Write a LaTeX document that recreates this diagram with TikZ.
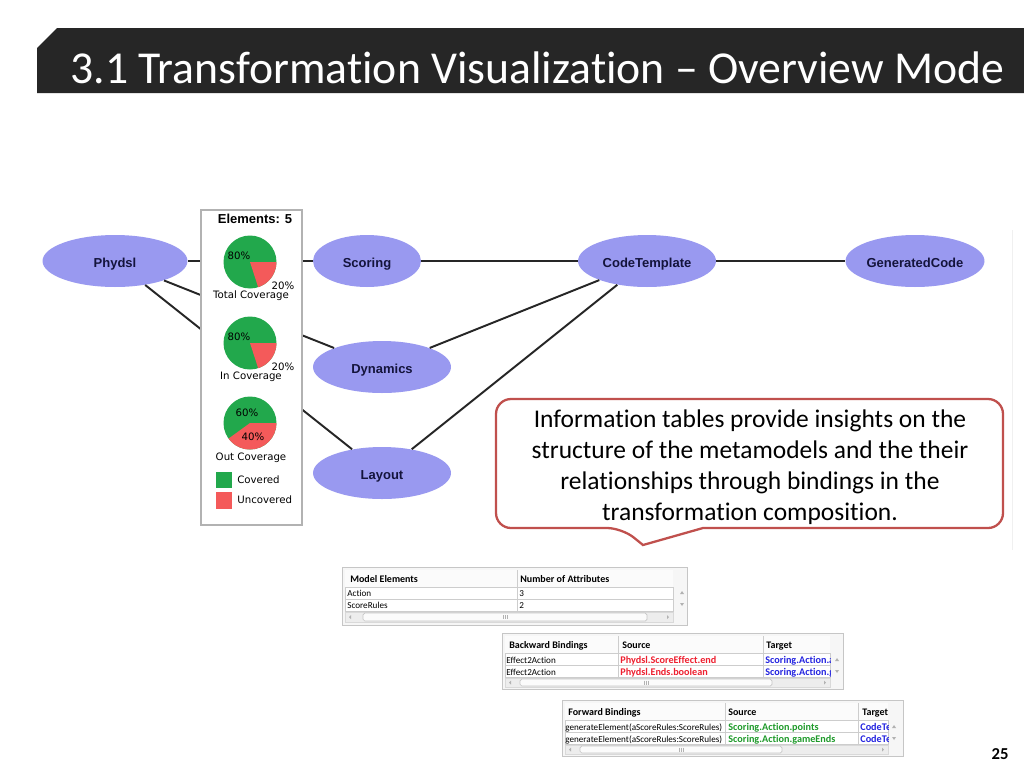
\documentclass[tikz,border=0pt]{standalone}
\usepackage{fontspec}
\setmainfont{Carlito}[Ligatures={TeX,NoCommon}]
\newfontfamily\arialfont{Liberation Sans}
\newfontfamily\tahomafont{DejaVu Sans}
\usetikzlibrary{shapes.geometric}

\definecolor{titlebar}{HTML}{262626}
\definecolor{nodefill}{HTML}{9999F0}
\definecolor{nodetext}{HTML}{14143C}
\definecolor{covgreen}{HTML}{22A84C}
\definecolor{covred}{HTML}{F45A5A}
\definecolor{calloutred}{HTML}{C0504D}
\definecolor{tblgrid}{HTML}{CDCDCD}
\definecolor{srcred}{HTML}{EE2030}
\definecolor{srcgreen}{HTML}{1E9A2A}
\definecolor{tgtblue}{HTML}{2424E0}

\begin{document}
\begin{tikzpicture}[x=0.02cm, y=-0.02cm,
    model/.style={ellipse, fill=nodefill, inner sep=0pt, minimum height=1.04cm,
      text height=1.6ex, text depth=0ex, text=nodetext,
      font=\arialfont\bfseries\fontsize{7.4}{8}\selectfont},
    edge/.style={line width=1.1pt, black!85},
    pielbl/.style={inner sep=0pt, font=\tahomafont\fontsize{5.8}{7}\selectfont},
    tblframe/.style={fill=gray!7, draw=gray!45, line width=0.5pt},
    tblrow/.style={fill=white, draw=tblgrid, line width=0.4pt},
    tbltext/.style={anchor=base west, inner sep=0pt, font=\fontsize{5.2}{6}\selectfont},
    tblhead/.style={anchor=base west, inner sep=0pt, font=\bfseries\fontsize{5.7}{6}\selectfont},
    tblbold/.style={tblhead, font=\bfseries\fontsize{5.8}{6}\selectfont},
    thumb/.style={fill=gray!3, draw=gray!45, line width=0.4pt, rounded corners=1pt},
    callout/.style={draw=calloutred, fill=white, line width=1.3pt}]

  \useasboundingbox[fill=white] (0,0) rectangle (1024,768);

  % title bar
  \fill[titlebar] (37,48) -- (57,28) -- (1024,28) -- (1024,93) -- (37,93) -- cycle;
  \node[anchor=base west, inner sep=0pt, text=white, font=\fontsize{26}{30}\selectfont]
    (title) at (70,83) {3.1 Transformation Visualization – Overview Mode};

  % metamodels
  \node[model, minimum width=2.9cm]  (phydsl)   at (115,261) {Phydsl};
  \node[model, minimum width=2.16cm] (scoring)  at (367,261) {Scoring};
  \node[model, minimum width=2.76cm] (codetpl)  at (647,261) {CodeTemplate};
  \node[model, minimum width=2.78cm] (gencode)  at (915,261) {GeneratedCode};
  \node[model, minimum width=2.76cm] (dynamics) at (382,367) {Dynamics};
  \node[model, minimum width=2.76cm] (layout)   at (382,473) {Layout};

  \draw[edge] (phydsl) -- (scoring);
  \draw[edge] (phydsl) -- (dynamics);
  \draw[edge] (phydsl) -- (layout);
  \draw[edge] (scoring) -- (codetpl);
  \draw[edge] (codetpl) -- (gencode);
  \draw[edge] (dynamics) -- (codetpl);
  \draw[edge] (layout) -- (codetpl);

  % coverage legend
  \filldraw[fill=white, draw=gray!60, line width=0.8pt] (201,210) rectangle (302,525);
  \node[font=\arialfont\bfseries\fontsize{7.4}{8}\selectfont] (elems) at (255,219) {Elements: 5};
  \foreach \cy/\ang in {262/72,343/72,423/144}{
    \fill[covgreen] (250,\cy) circle[radius=0.53cm];
    \fill[covred] (250,\cy) -- ++(0:0.53cm) arc[start angle=0, end angle=-\ang, radius=0.53cm] -- cycle;
  }
  \node[pielbl] (tot80) at (239,256) {80\%};
  \node[pielbl] (tot20) at (283,286) {20\%};
  \node[pielbl] (totlbl) at (251,296) {Total Coverage};
  \node[pielbl] (in80) at (239,337) {80\%};
  \node[pielbl] (in20) at (283,367) {20\%};
  \node[pielbl] (inlbl) at (251,377) {In Coverage};
  \node[pielbl] (out60) at (247,413) {60\%};
  \node[pielbl] (out40) at (253,437) {40\%};
  \node[pielbl] (outlbl) at (251,458) {Out Coverage};
  \fill[covgreen] (216,472) rectangle (232,488);
  \fill[covred] (216,492) rectangle (232,509);
  \node[pielbl, anchor=west] (covered) at (237,480) {Covered};
  \node[pielbl, anchor=west] (uncovered) at (237,500) {Uncovered};

  % callout
  \draw[callout] (703,528) [rounded corners=0.3cm] -- (1003,528) -- (1003,399) -- (496,399)
    -- (496,528) -- (622,528) [sharp corners] -- (643,545) -- cycle;
  \node[align=center, inner sep=0pt, font=\fontsize{14.5}{17.6}\selectfont] (info) at (750,467)
    {Information tables provide insights on the\\
     structure of the metamodels and the their\\
     relationships through bindings in the\\
     transformation composition.};
  \draw[gray!12] (1012,230) -- (1012,550);

  % table: model elements
  \filldraw[tblframe] (342,567) rectangle (687,625);
  \fill[gray!3] (345,570) rectangle (673,587);
  \filldraw[tblrow] (345,587) rectangle (673,599);
  \filldraw[tblrow] (345,599) rectangle (673,611);
  \draw[tblgrid] (517,570) -- (517,611);
  \filldraw[fill=gray!14, draw=gray!30] (345,612) rectangle (673,622);
  \filldraw[thumb] (363,613) rectangle (647,621);
  \foreach \dx in {-2,0,2} \draw[gray!60, line width=0.3pt] (505+\dx,615) -- ++(0,4);
  \fill[gray!60] (349,617) -- ++(2,-2) -- ++(0,4) -- cycle;
  \fill[gray!60] (669,617) -- ++(-2,-2) -- ++(0,4) -- cycle;
  \fill[gray!60] (682,591) -- ++(-2,3) -- ++(4,0) -- cycle;
  \fill[gray!60] (682,606) -- ++(-2,-3) -- ++(4,0) -- cycle;
  \node[tblhead] (t1h1) at (350,582) {Model Elements};
  \node[tblhead] (t1h2) at (520,582) {Number of Attributes};
  \node[tbltext] (t1r1) at (347,596) {Action};
  \node[tbltext] (t1v1) at (519,596) {3};
  \node[tbltext] (t1r2) at (347,608) {ScoreRules};
  \node[tbltext] (t1v2) at (519,608) {2};

  % table: backward bindings
  \filldraw[tblframe] (502,633) rectangle (843,689);
  \fill[gray!3] (505,636) rectangle (830,653);
  \filldraw[tblrow] (505,653) rectangle (830,665);
  \filldraw[tblrow] (505,665) rectangle (830,677);
  \draw[tblgrid] (618,636) -- (618,677);
  \draw[tblgrid] (763,636) -- (763,677);
  \filldraw[fill=gray!14, draw=gray!30] (505,678) rectangle (830,687);
  \filldraw[thumb] (520,679) rectangle (772,686);
  \foreach \dx in {-2,0,2} \draw[gray!60, line width=0.3pt] (646+\dx,680.5) -- ++(0,4);
  \fill[gray!60] (509,682.5) -- ++(2,-2) -- ++(0,4) -- cycle;
  \fill[gray!60] (826,682.5) -- ++(-2,-2) -- ++(0,4) -- cycle;
  \fill[gray!60] (837,658) -- ++(-2,3) -- ++(4,0) -- cycle;
  \fill[gray!60] (837,673) -- ++(-2,-3) -- ++(4,0) -- cycle;
  \node[tblhead] (t2h1) at (509,648) {Backward Bindings};
  \node[tblhead] (t2h2) at (622,648) {Source};
  \node[tblhead] (t2h3) at (766,648) {Target};
  \node[tbltext] (t2r1) at (506,663) {Effect2Action};
  \node[tbltext] (t2r2) at (506,675) {Effect2Action};
  \node[tblbold, text=srcred] (t2s1) at (620,663) {Phydsl.ScoreEffect.end};
  \node[tblbold, text=srcred] (t2s2) at (620,675) {Phydsl.Ends.boolean};
  \begin{scope}
    \clip (763,653) rectangle (830,677);
    \node[tblbold, text=tgtblue] (t2t1) at (765,663) {Scoring.Action.a};
    \node[tblbold, text=tgtblue] (t2t2) at (765,675) {Scoring.Action.g};
  \end{scope}

  % table: forward bindings
  \filldraw[tblframe] (562,700) rectangle (903,756);
  \fill[gray!3] (565,703) rectangle (888,720);
  \filldraw[tblrow] (565,720) rectangle (888,732);
  \filldraw[tblrow] (565,732) rectangle (888,744);
  \draw[tblgrid] (725,703) -- (725,744);
  \draw[tblgrid] (858,703) -- (858,744);
  \filldraw[fill=gray!14, draw=gray!30] (565,745) rectangle (888,754);
  \filldraw[thumb] (580,746) rectangle (782,753);
  \foreach \dx in {-2,0,2} \draw[gray!60, line width=0.3pt] (681+\dx,747.5) -- ++(0,4);
  \fill[gray!60] (569,749.5) -- ++(2,-2) -- ++(0,4) -- cycle;
  \fill[gray!60] (884,749.5) -- ++(-2,-2) -- ++(0,4) -- cycle;
  \fill[gray!60] (894,725) -- ++(-2,3) -- ++(4,0) -- cycle;
  \fill[gray!60] (894,740) -- ++(-2,-3) -- ++(4,0) -- cycle;
  \node[tblhead] (t3h1) at (568,715) {Forward Bindings};
  \node[tblhead] (t3h2) at (728,715) {Source};
  \node[tbltext] (t3r1) at (565,730) {generateElement(aScoreRules:ScoreRules)};
  \node[tbltext] (t3r2) at (565,742) {generateElement(aScoreRules:ScoreRules)};
  \node[tblbold, text=srcgreen] (t3s1) at (728,730) {Scoring.Action.points};
  \node[tblbold, text=srcgreen] (t3s2) at (728,742) {Scoring.Action.gameEnds};
  \begin{scope}
    \clip (858,703) rectangle (888,744);
    \node[tblhead] (t3h3) at (862,715) {Target};
    \node[tblbold, text=tgtblue] (t3t1) at (860,730) {CodeTemplate};
    \node[tblbold, text=tgtblue] (t3t2) at (860,742) {CodeTemplate};
  \end{scope}

  % page number
  \node[anchor=base east, inner sep=0pt, font=\bfseries\fontsize{9.5}{11}\selectfont] (pagenum) at (1009,759) {25};
\end{tikzpicture}
\end{document}
